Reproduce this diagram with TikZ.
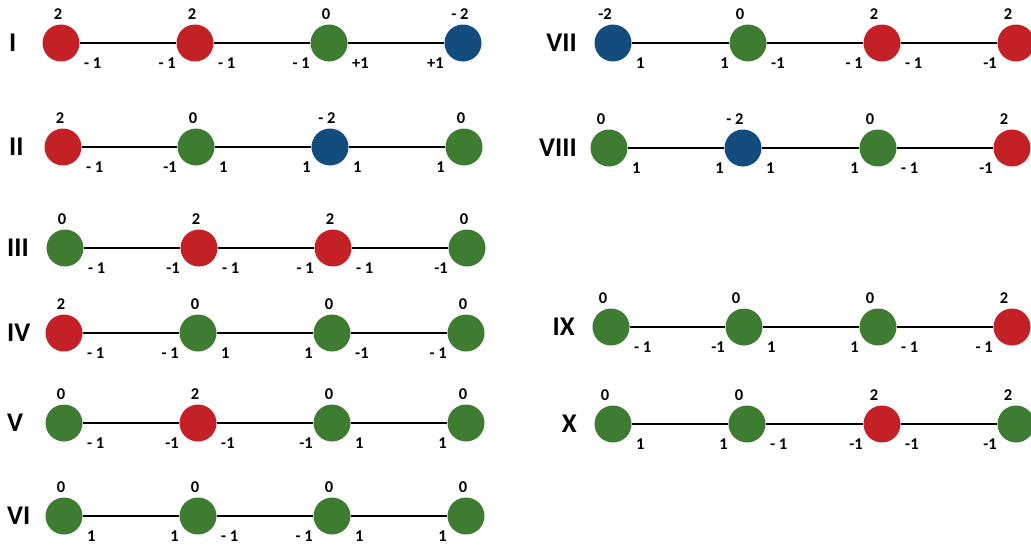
\documentclass[tikz,border=0pt]{standalone}
\usepackage{fontspec}
\setmainfont{Carlito}
\usetikzlibrary{calc}
\definecolor{cred}{HTML}{C42126}
\definecolor{cgreen}{HTML}{3E7D31}
\definecolor{cblue}{HTML}{124D7E}
\tikzset{
  disc/.style={circle, minimum size=37pt, inner sep=0pt, draw=none},
  link/.style={line width=2.7pt, black},
  num/.style={font=\bfseries\fontsize{16.5}{16.5}\selectfont, inner sep=0pt},
  roman/.style={font=\bfseries\fontsize{27}{27}\selectfont, inner sep=0pt},
}
\def\tdx{-3}
% \ball{name}{x}{y}{colour}{top}{bottom-left}{bottom-right}
\newcommand\ball[7]{%
  \node[disc, fill=#4] (#1) at (#2,#3) {};
  \node[num] (#1t) at ($(#1)+(\tdx,-29)$) {#5};
  \if\relax\detokenize{#6}\relax\else
    \node[num, anchor=east] (#1l) at ($(#1)+(-19,20)$) {#6};\fi
  \if\relax\detokenize{#7}\relax\else
    \node[num, anchor=west] (#1r) at ($(#1)+(23,20)$) {#7};\fi
}
\begin{document}
\begin{tikzpicture}[x=1pt,y=-1pt]
\useasboundingbox (0,0) rectangle (1031,546);
\clip (0,0) rectangle (1031,546);
\fill[white] (0,0) rectangle (1031,546);
% ---- left column
\node[roman, anchor=west] (rI) at (9,43) {I};
\ball{a1}{61}{43}{cred}{2}{}{- 1}
\ball{a2}{195}{43}{cred}{2}{- 1}{- 1}
\ball{a3}{329}{43}{cgreen}{0}{- 1}{+1}
\ball{a4}{463}{43}{cblue}{- 2}{+1}{}
\node[roman, anchor=west] (rII) at (9,147) {II};
\ball{b1}{63}{147}{cred}{2}{}{- 1}
\ball{b2}{196}{147}{cgreen}{0}{-1}{1}
\ball{b3}{330}{147}{cblue}{- 2}{1}{1}
\ball{b4}{464}{147}{cgreen}{0}{1}{}
\node[roman, anchor=west] (rIII) at (7,248) {III};
\ball{c1}{65}{248}{cgreen}{0}{}{- 1}
\ball{c2}{199}{248}{cred}{2}{-1}{- 1}
\ball{c3}{333}{248}{cred}{2}{- 1}{- 1}
\ball{c4}{467}{248}{cgreen}{0}{-1}{}
\node[roman, anchor=west] (rIV) at (7,333) {IV};
\ball{d1}{64}{333}{cred}{2}{}{- 1}
\ball{d2}{198}{333}{cgreen}{0}{- 1}{1}
\ball{d3}{332}{333}{cgreen}{0}{1}{-1}
\ball{d4}{466}{333}{cgreen}{0}{- 1}{}
\node[roman, anchor=west] (rV) at (7,423) {V};
\ball{e1}{64}{423}{cgreen}{0}{}{- 1}
\ball{e2}{198}{423}{cred}{2}{-1}{-1}
\ball{e3}{332}{423}{cgreen}{0}{-1}{1}
\ball{e4}{466}{423}{cgreen}{0}{1}{}
\node[roman, anchor=west] (rVI) at (7,516) {VI};
\ball{f1}{64}{516}{cgreen}{0}{}{1}
\ball{f2}{198}{516}{cgreen}{0}{1}{- 1}
\ball{f3}{332}{516}{cgreen}{0}{- 1}{1}
\ball{f4}{466}{516}{cgreen}{0}{1}{}
% ---- right column
\def\tdx{-8}
\node[roman, anchor=east] (rVII) at (577,43) {VII};
\ball{g1}{613}{43}{cblue}{-2}{}{1}
\ball{g2}{748}{43}{cgreen}{0}{1}{-1}
\ball{g3}{882}{43}{cred}{2}{- 1}{- 1}
\ball{g4}{1016}{43}{cred}{2}{-1}{}
\node[roman, anchor=east] (rVIII) at (577,148) {VIII};
\ball{h1}{609}{148}{cgreen}{0}{}{1}
\ball{h2}{743}{148}{cblue}{- 2}{1}{1}
\ball{h3}{878}{148}{cgreen}{0}{1}{- 1}
\ball{h4}{1012}{148}{cred}{2}{-1}{}
\node[roman, anchor=east] (rIX) at (575,327) {IX};
\ball{i1}{611}{327}{cgreen}{0}{}{- 1}
\ball{i2}{744}{327}{cgreen}{0}{-1}{1}
\ball{i3}{878}{327}{cgreen}{0}{1}{- 1}
\ball{i4}{1012}{327}{cred}{2}{- 1}{}
\node[roman, anchor=east] (rX) at (577,424) {X};
\ball{j1}{613}{424}{cgreen}{0}{}{1}
\ball{j2}{747}{424}{cgreen}{0}{1}{- 1}
\ball{j3}{882}{424}{cred}{2}{-1}{-1}
\ball{j4}{1016}{424}{cgreen}{2}{-1}{}
% ---- connectors
\foreach \r in {a,b,c,d,e,f,g,h,i,j}{
  \draw[link] (\r1) -- (\r2) -- (\r3) -- (\r4);
}
\end{tikzpicture}
\end{document}
